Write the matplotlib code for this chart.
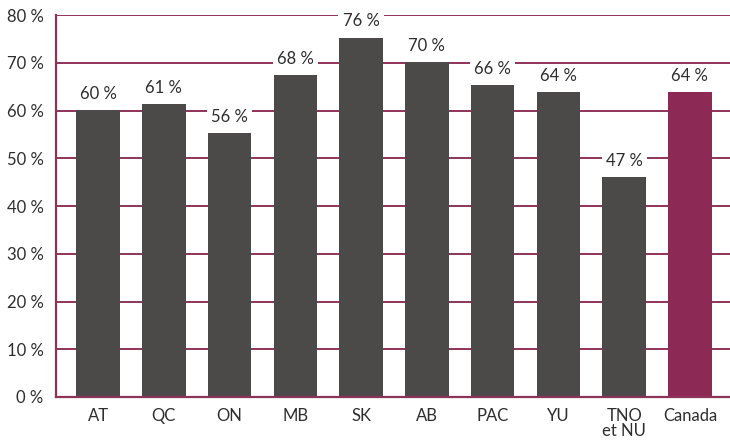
import matplotlib
matplotlib.use('Agg')
import matplotlib.pyplot as plt

# ===== DATI =====
regions = ['AT', 'QC', 'ON', 'MB', 'SK', 'AB', 'PAC', 'YU', 'TNO\net NU', 'Canada']
heights = [60.1, 61.3, 55.3, 67.5, 75.3, 70.1, 65.3, 63.8, 46.1, 63.9]
labels = ['60 %', '61 %', '56 %', '68 %', '76 %', '70 %', '66 %', '64 %', '47 %', '64 %']
yticks = [0, 10, 20, 30, 40, 50, 60, 70, 80]

GREY = '#4b4a49'
MAROON = '#8c2a55'
LINE = '#8e3358'
TEXT = '#2e2e2e'

plt.rcParams['font.family'] = ['Lato', 'DejaVu Sans']

fig = plt.figure(figsize=(7.3, 4.41), dpi=100)
ax = fig.add_axes([0.0767, 0.0998, 0.9233, 0.866])

colors = [GREY] * (len(regions) - 1) + [MAROON]
x = list(range(len(regions)))

# griglia orizzontale dietro le barre
for y in yticks[1:]:
    ax.axhline(y, color=LINE, linewidth=1.4, zorder=1)

ax.bar(x, heights, width=0.66, color=colors, zorder=2)

# etichette valori con sfondo bianco che interrompe la griglia
for xi, h, lab in zip(x, heights, labels):
    ax.text(xi, h + 1.7, lab, ha='center', va='bottom', fontsize=12, color=TEXT,
            zorder=4, bbox=dict(facecolor='white', edgecolor='none', pad=3))

ax.set_xlim(-0.64, 9.61)
ax.set_ylim(0, 80)
ax.set_yticks(yticks)
ax.set_yticklabels([f'{v} %' for v in yticks], fontsize=12, color=TEXT)
ax.set_xticks(x)
ax.set_xticklabels(regions, fontsize=12, color=TEXT, linespacing=0.9)
ax.tick_params(length=0, pad=9)
ax.tick_params(axis='x', pad=8)

for side in ['top', 'right']:
    ax.spines[side].set_visible(False)
ax.spines['left'].set_color(LINE)
ax.spines['bottom'].set_color(LINE)
ax.spines['left'].set_linewidth(1.6)
ax.spines['bottom'].set_linewidth(1.6)

fig.savefig('out.png', dpi=100)
